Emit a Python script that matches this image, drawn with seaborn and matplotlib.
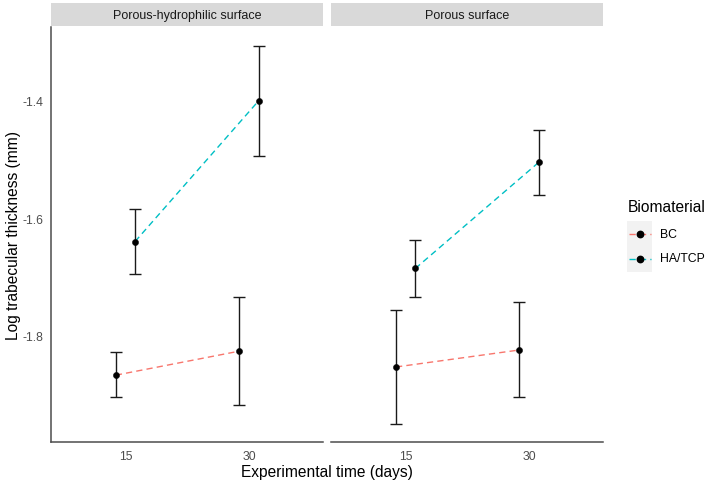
import numpy as np
import pandas as pd
import seaborn as sns
import matplotlib
matplotlib.use("Agg")
import matplotlib.pyplot as plt
from matplotlib.lines import Line2D

sns.set_theme(style="white")
plt.rcParams['font.family'] = ['Liberation Sans', 'DejaVu Sans']

# data
surfaces = ["Porous-hydrophilic surface", "Porous surface"]
times = ["15", "30"]
materials = ["BC", "HA/TCP"]
colors = {"BC": "#F8766D", "HA/TCP": "#00BFC4"}

# mean, lower, upper per surface -> material -> [t15, t30]
means = {
    "Porous-hydrophilic surface": {"BC": [-1.868, -1.827], "HA/TCP": [-1.640, -1.400]},
    "Porous surface": {"BC": [-1.854, -1.825], "HA/TCP": [-1.686, -1.505]},
}
lower = {
    "Porous-hydrophilic surface": {"BC": [-1.906, -1.919], "HA/TCP": [-1.695, -1.494]},
    "Porous surface": {"BC": [-1.951, -1.906], "HA/TCP": [-1.735, -1.560]},
}
upper = {
    "Porous-hydrophilic surface": {"BC": [-1.829, -1.734], "HA/TCP": [-1.585, -1.306]},
    "Porous surface": {"BC": [-1.756, -1.743], "HA/TCP": [-1.637, -1.449]},
}

rows = []
for s in surfaces:
    for m in materials:
        for i, t in enumerate(times):
            rows.append(dict(surface=s, material=m, time=t,
                             mean=means[s][m][i], lo=lower[s][m][i], hi=upper[s][m][i]))
df = pd.DataFrame(rows)

# position_dodge-like offsets
dodge = {"BC": -0.078, "HA/TCP": 0.078}
df["xpos"] = df["time"].map({t: i for i, t in enumerate(times)}) + df["material"].map(dodge)

W, H = 709, 485
fig = plt.figure(figsize=(W / 100, H / 100), dpi=100)

def fx(px):
    return px / W

def fy(py):
    return 1 - py / H

panel_x = [(50.7, 323.3), (331.0, 603.3)]
top, bottom = 28.0, 443.0
strip_top = 4.0
axis_col = "#4D4D4D"
tick_col = "#4D4D4D"
dash = (4.5, 3)

for k, s in enumerate(surfaces):
    x0, x1 = panel_x[k]
    ax = fig.add_axes([fx(x0), fy(bottom), (x1 - x0) / W, (bottom - top) / H])
    sub = df[df.surface == s]

    for m in materials:
        d = sub[sub.material == m]
        ax.errorbar(d["xpos"], d["mean"],
                    yerr=[d["mean"] - d["lo"], d["hi"] - d["mean"]],
                    fmt="none", ecolor="#1A1A1A", elinewidth=1.0,
                    capsize=4.3, capthick=1.0, zorder=2)

    n_before = len(ax.lines)
    sns.lineplot(data=sub, x="xpos", y="mean", hue="material", palette=colors,
                 hue_order=materials, ax=ax, legend=False, linewidth=1.0,
                 zorder=3)
    for ln in ax.lines[n_before:]:
        ln.set_dashes(dash)
    sns.scatterplot(data=sub, x="xpos", y="mean", color="black", s=20,
                    edgecolor="black", linewidth=0.3, ax=ax, zorder=4)

    ax.set_xlim(-0.605, 1.602)
    ax.set_ylim(-1.982, -1.274)
    ax.set_xticks(range(len(times)))
    ax.set_xticklabels(times)
    ax.set_yticks([-1.8, -1.6, -1.4])
    ax.set_xlabel("")
    ax.set_ylabel("")
    for side in ["top", "right"]:
        ax.spines[side].set_visible(False)
    ax.spines["bottom"].set_color(axis_col)
    ax.spines["bottom"].set_linewidth(1.1)
    ax.tick_params(axis="both", colors=axis_col, labelcolor=tick_col,
                   labelsize=8.8, length=3.5, width=1.0, direction="out", pad=2)
    if k == 0:
        ax.spines["left"].set_color(axis_col)
        ax.spines["left"].set_linewidth(1.1)
        ax.set_yticklabels(["-1.8", "-1.6", "-1.4"])
    else:
        ax.spines["left"].set_visible(False)
        ax.tick_params(axis="y", left=False, labelleft=False)

    # facet strip
    sax = fig.add_axes([fx(x0), fy(top - 0.7), (x1 - x0) / W, (top - 0.7 - strip_top) / H])
    sax.set_facecolor("#D9D9D9")
    sax.set_xticks([])
    sax.set_yticks([])
    for sp in sax.spines.values():
        sp.set_visible(False)
    sax.text(0.5, 0.5, s, ha="center", va="center", fontsize=9,
             color="#1A1A1A", transform=sax.transAxes)

fig.text(fx((50.7 + 603.3) / 2), fy(472.5), "Experimental time (days)",
         ha="center", va="center", fontsize=11.2, color="black")
fig.text(fx(14), fy((top + bottom) / 2), "Log trabecular thickness (mm)",
         ha="center", va="center", rotation=90, fontsize=11.2, color="black")

# legend, ggplot style
fig.text(fx(627.5), fy(207), "Biomaterial", ha="left", va="center",
         fontsize=11.2, color="black")
fig.patches.append(plt.Rectangle((fx(627.3), fy(272.5)), 24.5 / W, 50.5 / H,
                                 transform=fig.transFigure, facecolor="#F2F2F2",
                                 edgecolor="none", zorder=0))
for m, ky in zip(materials, [234.5, 259.5]):
    fig.lines.append(Line2D([fx(628.5), fx(650.5)], [fy(ky), fy(ky)],
                            transform=fig.transFigure, color=colors[m],
                            linewidth=1.0, dashes=dash))
    fig.lines.append(Line2D([fx(639.5)], [fy(ky)], transform=fig.transFigure,
                            marker="o", markersize=4.6, color="black",
                            linestyle="none"))
    fig.text(fx(660), fy(ky), m, ha="left", va="center", fontsize=8.8,
             color="black")

fig.savefig("out.png", dpi=100)
